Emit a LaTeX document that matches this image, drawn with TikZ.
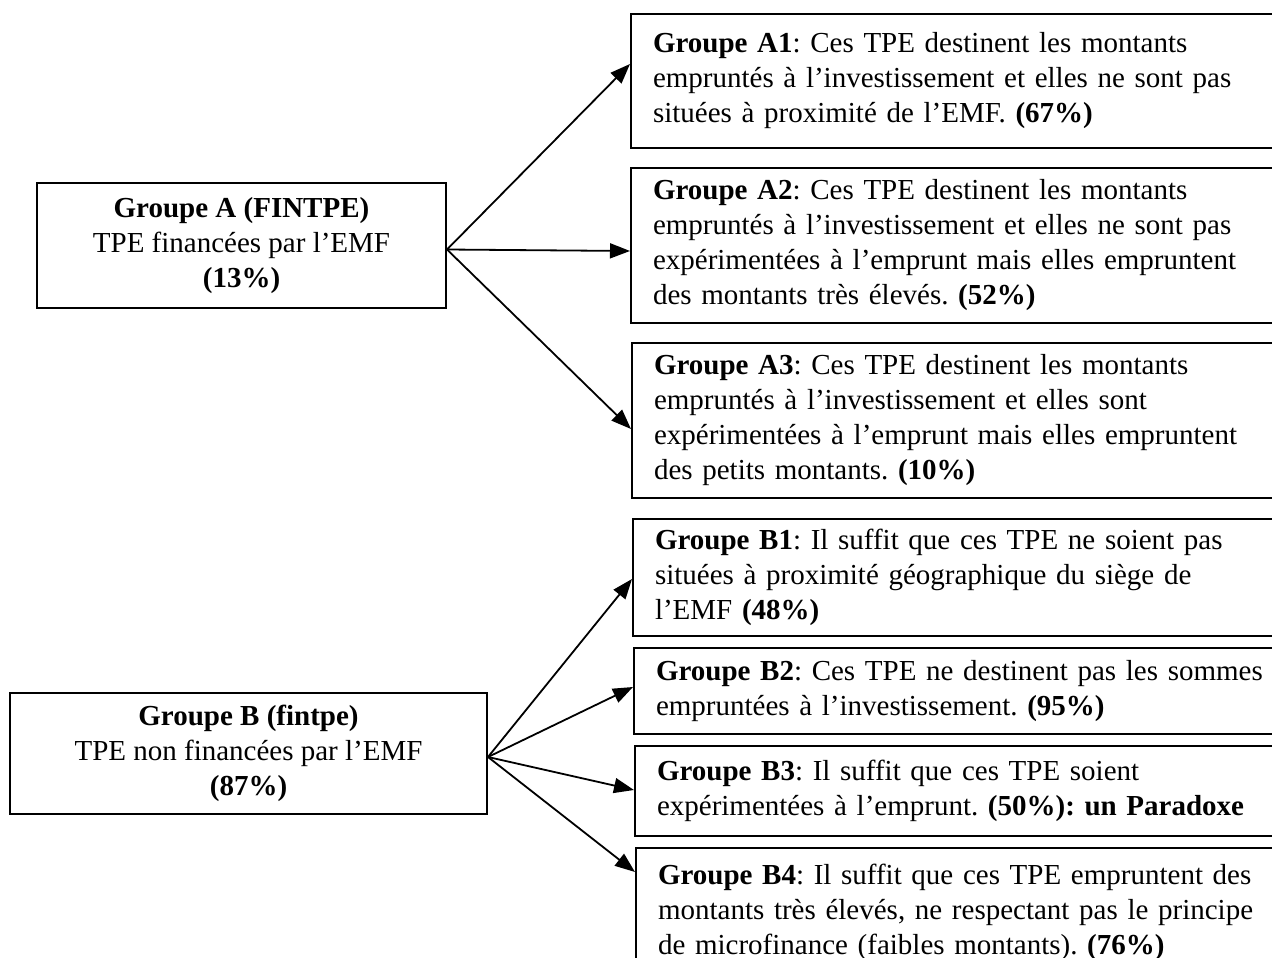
\documentclass[tikz,border=0pt]{standalone}
\usepackage{fontspec}
\setmainfont{Liberation Serif}
\usetikzlibrary{arrows.meta}
\frenchspacing
\tikzset{
  txt/.style={font=\fontsize{29}{35}\selectfont},
  groupbox/.style={txt, draw, line width=2pt, align=center, inner sep=0pt},
  subbox/.style={txt, draw, line width=2pt, anchor=north west, align=left,
    text width=640pt, inner xsep=22pt, inner ysep=0pt},
  branch/.style={line width=1.8pt, -{Triangle[length=20pt,width=15pt]}},
}
\begin{document}
\begin{tikzpicture}[x=1pt,y=1pt]
                    \useasboundingbox (0,0) rectangle (1272,-958);
                    \clip (0,0) rectangle (1272,-958);

                    % Drawing group A
                    \node [groupbox, minimum width=409pt, minimum height=125pt] (grpA) at (241.5,-245.5)
                      {\textbf{Groupe A (FINTPE)}\\ TPE financées par l’EMF\\ \textbf{(13\%)}};%

                    % Drawing group B
                    \node [groupbox, minimum width=477pt, minimum height=121pt] (grpB) at (248.5,-753.5)
                      {\textbf{Groupe B (fintpe)}\\ TPE non financées par l’EMF\\ \textbf{(87\%)}};%

                    % Drawing boxes A1 A2 A3
                    \node [subbox, minimum height=134pt] (boxA1) at (630,-13)
                      {\textbf{Groupe A1}: Ces TPE destinent les montants\\ empruntés à l’investissement et elles ne sont pas\\ situées à proximité de l’EMF. \textbf{(67\%)}};%
                    \node [subbox, minimum height=155pt] (boxA2) at (630,-167)
                      {\textbf{Groupe A2}: Ces TPE destinent les montants\\ empruntés à l’investissement et elles ne sont pas\\ expérimentées à l’emprunt mais elles empruntent\\ des montants très élevés. \textbf{(52\%)}};%
                    \node [subbox, minimum height=155pt] (boxA3) at (631,-342)
                      {\textbf{Groupe A3}: Ces TPE destinent les montants\\ empruntés à l’investissement et elles sont\\ expérimentées à l’emprunt mais elles empruntent\\ des petits montants. \textbf{(10\%)}};%

                    % Drawing boxes B1 B2 B3 B4
                    \node [subbox, minimum height=117pt] (boxB1) at (632,-518)
                      {\textbf{Groupe B1}: Il suffit que ces TPE ne soient pas\\ situées à proximité géographique du siège de\\ l’EMF \textbf{(48\%)}};%
                    \node [subbox, minimum height=86pt] (boxB2) at (633,-647)
                      {\textbf{Groupe B2}: Ces TPE ne destinent pas les sommes\\ empruntées à l’investissement. \textbf{(95\%)}};%
                    \node [subbox, minimum height=90pt] (boxB3) at (634,-745)
                      {\textbf{Groupe B3}: Il suffit que ces TPE soient\\ expérimentées à l’emprunt. \textbf{(50\%): un Paradoxe}};%
                    \node [subbox, minimum height=128pt] (boxB4) at (635,-847)
                      {\textbf{Groupe B4}: Il suffit que ces TPE empruntent des\\ montants très élevés, ne respectant pas le principe\\ de microfinance (faibles montants). \textbf{(76\%)}};%

                    % Drawing arrows from A
                    \coordinate (srcA) at ([yshift=-4pt]grpA.east);
                    \draw [branch] (srcA) -- ([yshift=17pt]boxA1.west);%
                    \draw [branch] (srcA) -- ([yshift=-5.5pt]boxA2.west);%
                    \draw [branch] (srcA) -- ([yshift=-8.5pt]boxA3.west);%

                    % Drawing arrows from B
                    \coordinate (srcB) at ([yshift=-3.5pt]grpB.east);
                    \draw [branch] (srcB) -- ([yshift=-1.5pt]boxB1.west);%
                    \draw [branch] (srcB) -- ([yshift=4pt]boxB2.west);%
                    \draw [branch] (srcB) -- ([yshift=1pt]boxB3.west);%
                    \draw [branch] (srcB) -- ([yshift=40pt]boxB4.west);%
\end{tikzpicture}
\end{document}
